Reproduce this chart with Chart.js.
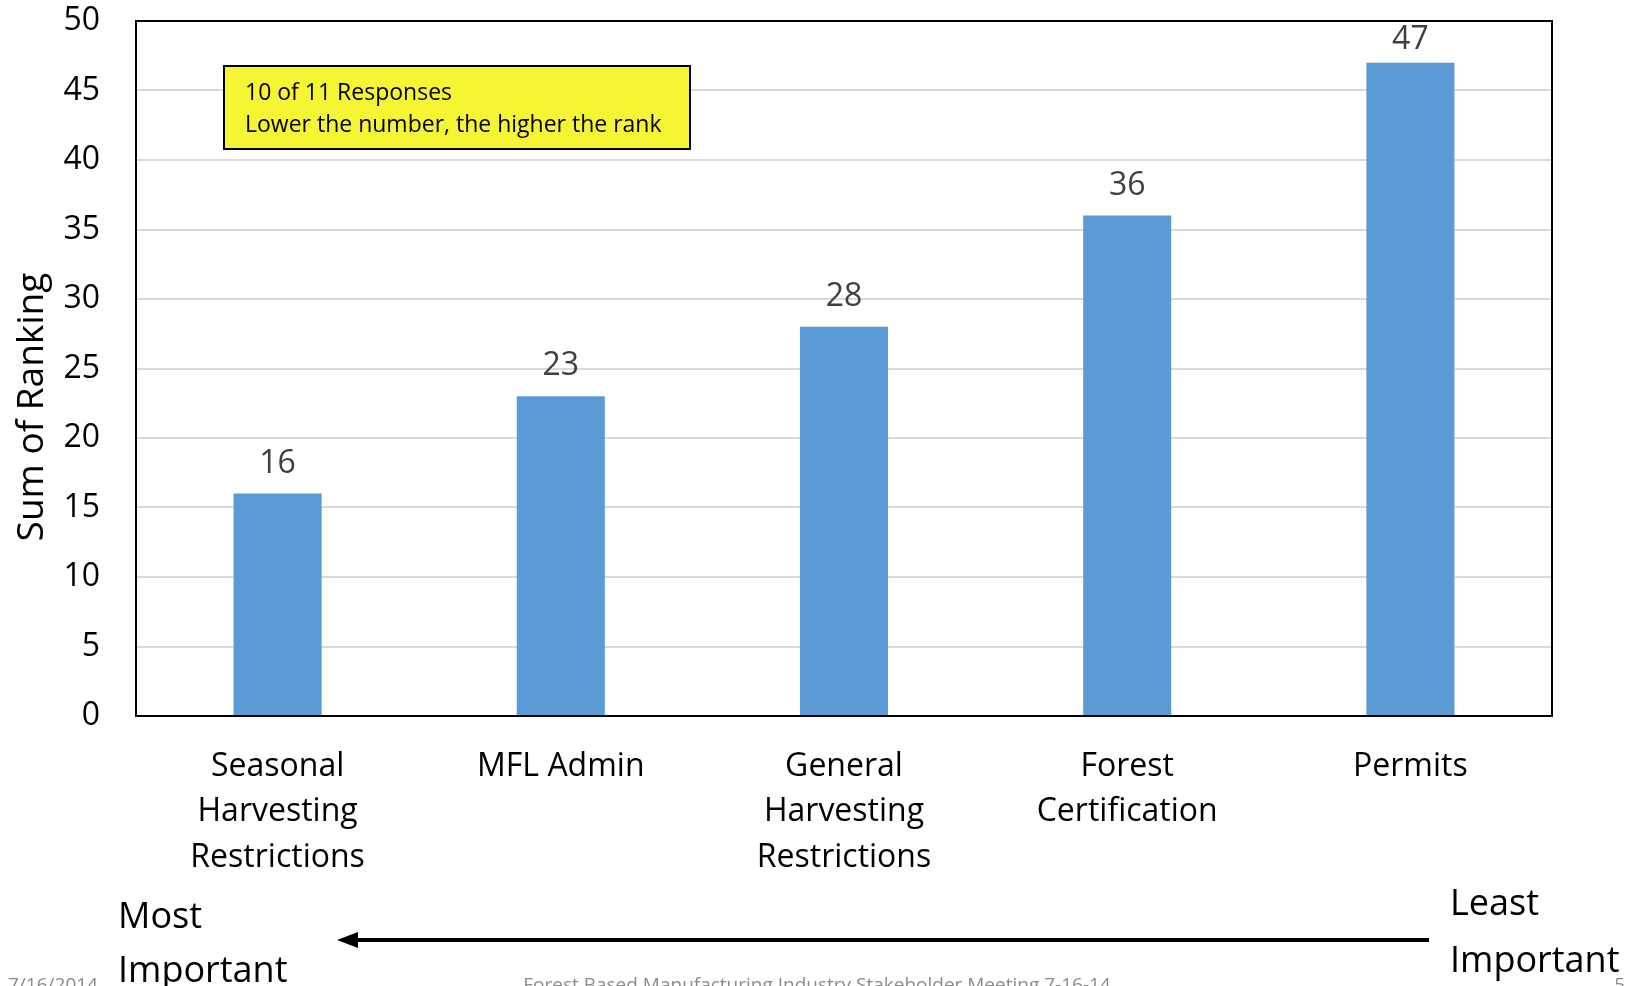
<!DOCTYPE html>
<html>
<head>
<meta charset="utf-8">
<title>Sum of Ranking</title>
<script src="https://cdn.jsdelivr.net/npm/chart.js@4.4.1/dist/chart.umd.min.js"></script>
<style>
    html, body { margin: 0; padding: 0; background: #ffffff; }
    #wrap { width: 1642px; height: 986px; position: relative; }
</style>
</head>
<body>
<div id="wrap"><canvas id="rankChart" width="1642" height="986"></canvas></div>
<script>
// --- DATA ---
const categories = [
    ['Seasonal', 'Harvesting', 'Restrictions'],
    'MFL Admin',
    ['General', 'Harvesting', 'Restrictions'],
    ['Forest', 'Certification'],
    'Permits'
];
const rankSums = [16, 23, 28, 36, 47];
const yTicks = { min: 0, max: 50, step: 5 };
const yTitle = 'Sum of Ranking';
const noteLines = ['10 of 11 Responses', 'Lower the number, the higher the rank'];
const leftNote = ['Most', 'Important'];
const rightNote = ['Least', 'Important'];
const footerDate = '7/16/2014';
const footerTitle = 'Forest Based Manufacturing Industry Stakeholder Meeting 7-16-14';
const footerPage = '5';

const FONT = '"Open Sans", Lato, sans-serif';

// --- EXTRA DRAWING (border, labels, notes) ---
const extrasPlugin = {
    id: 'extras',
    afterDatasetsDraw(chart) {
        const ctx = chart.ctx;
        const area = chart.chartArea;
        ctx.save();

        // plot frame
        ctx.strokeStyle = '#000000';
        ctx.lineWidth = 2;
        ctx.strokeRect(area.left, area.top, area.right - area.left, area.bottom - area.top);

        // values above bars (kept inside the plot, like the tallest one)
        ctx.fillStyle = '#404040';
        ctx.font = '32px ' + FONT;
        ctx.textAlign = 'center';
        ctx.textBaseline = 'alphabetic';
        chart.getDatasetMeta(0).data.forEach((bar, i) => {
            const y = Math.max(bar.y - 21, area.top + 28);
            ctx.fillText(String(rankSums[i]), bar.x, y);
        });

        // y title
        ctx.save();
        ctx.translate(32, 407);
        ctx.rotate(-Math.PI / 2);
        ctx.fillStyle = '#000000';
        ctx.font = '37px ' + FONT;
        ctx.textBaseline = 'middle';
        ctx.fillText(yTitle, 0, 0);
        ctx.restore();

        // yellow note box
        ctx.fillStyle = '#f5f533';
        ctx.fillRect(224, 66, 466, 83);
        ctx.strokeStyle = '#000000';
        ctx.lineWidth = 2;
        ctx.strokeRect(224, 66, 466, 83);
        ctx.fillStyle = '#000000';
        ctx.font = '23px ' + FONT;
        ctx.textAlign = 'left';
        ctx.fillText(noteLines[0], 245, 100);
        ctx.fillText(noteLines[1], 245, 132);

        // most / least important
        ctx.font = '36px ' + FONT;
        ctx.fillText(leftNote[0], 118, 928);
        ctx.fillText(leftNote[1], 118, 982);
        ctx.fillText(rightNote[0], 1450, 915);
        ctx.fillText(rightNote[1], 1450, 972);

        // arrow
        ctx.strokeStyle = '#000000';
        ctx.lineWidth = 4;
        ctx.beginPath();
        ctx.moveTo(1429, 940);
        ctx.lineTo(352, 940);
        ctx.stroke();
        ctx.beginPath();
        ctx.moveTo(337, 940);
        ctx.lineTo(358, 932);
        ctx.lineTo(358, 948);
        ctx.closePath();
        ctx.fill();

        // footer
        ctx.fillStyle = '#8b8b8b';
        ctx.font = '19px ' + FONT;
        ctx.textAlign = 'left';
        ctx.fillText(footerDate, 8, 991);
        ctx.textAlign = 'center';
        ctx.fillText(footerTitle, 817, 991);
        ctx.textAlign = 'right';
        ctx.fillText(footerPage, 1625, 991);

        ctx.restore();
    }
};

// --- CHART ---
const ctx = document.getElementById('rankChart').getContext('2d');
new Chart(ctx, {
    type: 'bar',
    data: {
        labels: categories,
        datasets: [{
            data: rankSums,
            backgroundColor: '#5b9bd5',
            borderWidth: 0,
            categoryPercentage: 1,
            barPercentage: 0.311
        }]
    },
    options: {
        responsive: false,
        animation: false,
        layout: { padding: { left: 0, top: 21, right: 90, bottom: 0 } },
        plugins: {
            legend: { display: false },
            tooltip: { enabled: false }
        },
        scales: {
            x: {
                grid: { display: false, drawTicks: false },
                border: { color: '#000000', width: 2 },
                ticks: {
                    color: '#000000',
                    font: { family: FONT, size: 32, lineHeight: 1.42 },
                    padding: 28,
                    maxRotation: 0,
                    autoSkip: false
                },
                afterFit(scale) {
                    scale.height = 270;
                    scale.paddingLeft = 0;
                    scale.paddingRight = 0;
                }
            },
            y: {
                min: yTicks.min,
                max: yTicks.max,
                grid: { color: '#d9d9d9', lineWidth: 2, drawTicks: false },
                border: { color: '#000000', width: 2 },
                ticks: {
                    stepSize: yTicks.step,
                    color: '#000000',
                    font: { family: FONT, size: 32 },
                    padding: 36
                },
                afterFit(scale) {
                    scale.width = 136;
                    scale.paddingTop = 0;
                    scale.paddingBottom = 0;
                }
            }
        }
    },
    plugins: [extrasPlugin]
});
</script>
</body>
</html>
